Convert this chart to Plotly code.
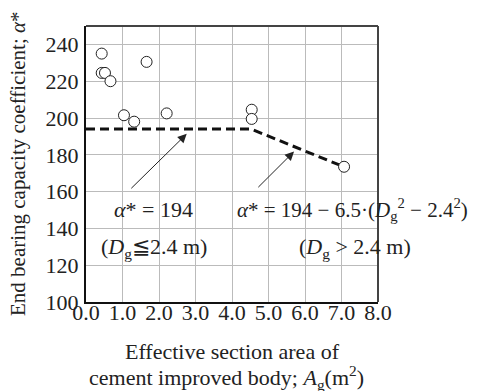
import plotly.graph_objects as go

# Data
area = [0.43, 0.43, 0.52, 0.67, 1.04, 1.32, 1.66, 2.21, 4.54, 4.54, 7.07]
alpha = [235, 224.5, 224.5, 220, 201.5, 198, 230.5, 202.5, 204.5, 199.5, 173.5]
line_x = [0.0, 4.52, 7.0]
line_y = [194, 194, 174]
x_ticks = [0, 1, 2, 3, 4, 5, 6, 7, 8]
x_tick_labels = ["0.0", "1.0", "2.0", "3.0", "4.0", "5.0", "6.0", "7.0", "8.0"]
y_ticks = [100, 120, 140, 160, 180, 200, 220, 240]

FONT = "Liberation Serif, Times New Roman, serif"
FS = 22
OFF = 8  # default page body margin

W, H = 477 - OFF, 391 - OFF
L, R, T, B = 86 - OFF, 99, 26 - OFF, 89

fig = go.Figure()
fig.add_trace(go.Scatter(x=line_x, y=line_y, mode="lines",
                         line=dict(color="#111", width=3, dash="9px,5px"),
                         showlegend=False, hoverinfo="skip"))
fig.add_trace(go.Scatter(x=area, y=alpha, mode="markers",
                         marker=dict(size=11, color="white", line=dict(color="#222", width=1)),
                         showlegend=False))

fig.update_layout(
    width=W, height=H,
    margin=dict(l=L, r=R, t=T, b=B, autoexpand=False),
    paper_bgcolor="white", plot_bgcolor="white",
    font=dict(family=FONT, size=FS, color="#222"),
    xaxis=dict(range=[0, 8], tickvals=x_ticks, ticktext=x_tick_labels,
               showgrid=True, gridcolor="#bbbbbb", gridwidth=1,
               showline=True, linecolor="#111", linewidth=2, ticks="",
               zeroline=False, ticklabelstandoff=-10,
               tickfont=dict(family=FONT, size=FS, color="#222")),
    yaxis=dict(range=[100, 250], tickvals=y_ticks,
               showgrid=True, gridcolor="#bbbbbb", gridwidth=1,
               showline=True, linecolor="#111", linewidth=2, ticks="",
               zeroline=False, ticklabelstandoff=1,
               tickfont=dict(family=FONT, size=FS, color="#222")),
    shapes=[
        dict(type="line", xref="paper", yref="paper", x0=0, x1=1, y0=1, y1=1,
             line=dict(color="#444", width=2)),
        dict(type="line", xref="paper", yref="paper", x0=1, x1=1, y0=0, y1=1,
             line=dict(color="#444", width=2)),
    ],
)

plot_h = H - T - B
plot_w = W - L - R
def py(pix):
    return (H - B - (pix - OFF)) / plot_h
def px(pix):
    return ((pix - OFF) - L) / plot_w

tf = dict(family=FONT, size=FS, color="#222")
tf21 = dict(family=FONT, size=21, color="#222")
C = dict(xanchor="center", yanchor="middle", showarrow=False)
# arrows
fig.add_annotation(x=2.76, y=191.4, ax=1.2, ay=161, xref="x", yref="y", axref="x", ayref="y",
                   showarrow=True, arrowhead=2, arrowsize=1.8, arrowwidth=1, arrowcolor="#222", text="")
fig.add_annotation(x=5.70, y=181.8, ax=4.68, ay=161.6, xref="x", yref="y", axref="x", ayref="y",
                   showarrow=True, arrowhead=2, arrowsize=1.8, arrowwidth=1, arrowcolor="#222", text="")
# labels
fig.add_annotation(x=1.84, y=150.4, xref="x", yref="y", text="<i>α</i>* = 194", font=tf, **C)
fig.add_annotation(x=1.86, y=129.2, xref="x", yref="y", text="(<i>D</i><sub>g</sub>≦2.4 m)", font=tf, **C)
fig.add_annotation(x=px(352), y=150.4, xref="paper", yref="y", font=tf21,
                   text="<i>α</i>* = 194 − 6.5·(<i>D</i><sub>g</sub><sup>2</sup> − 2.4<sup>2</sup>)", **C)
fig.add_annotation(x=px(355), y=129.2, xref="paper", yref="y", font=tf,
                   text="(<i>D</i><sub>g</sub> > 2.4 m)", **C)
# axis titles
fig.add_annotation(x=px(232), y=py(351), xref="paper", yref="paper", font=tf,
                   text="Effective section area of", **C)
fig.add_annotation(x=px(226), y=py(377), xref="paper", yref="paper", font=tf,
                   text="cement improved body; <i>A</i><sub>g</sub>(m<sup>2</sup>)", **C)
fig.add_annotation(x=px(18), y=py(164), xref="paper", yref="paper", textangle=-90, font=tf21,
                   text="End bearing capacity coefficient; <i>α</i>*", **C)

fig.write_html("out.html")
